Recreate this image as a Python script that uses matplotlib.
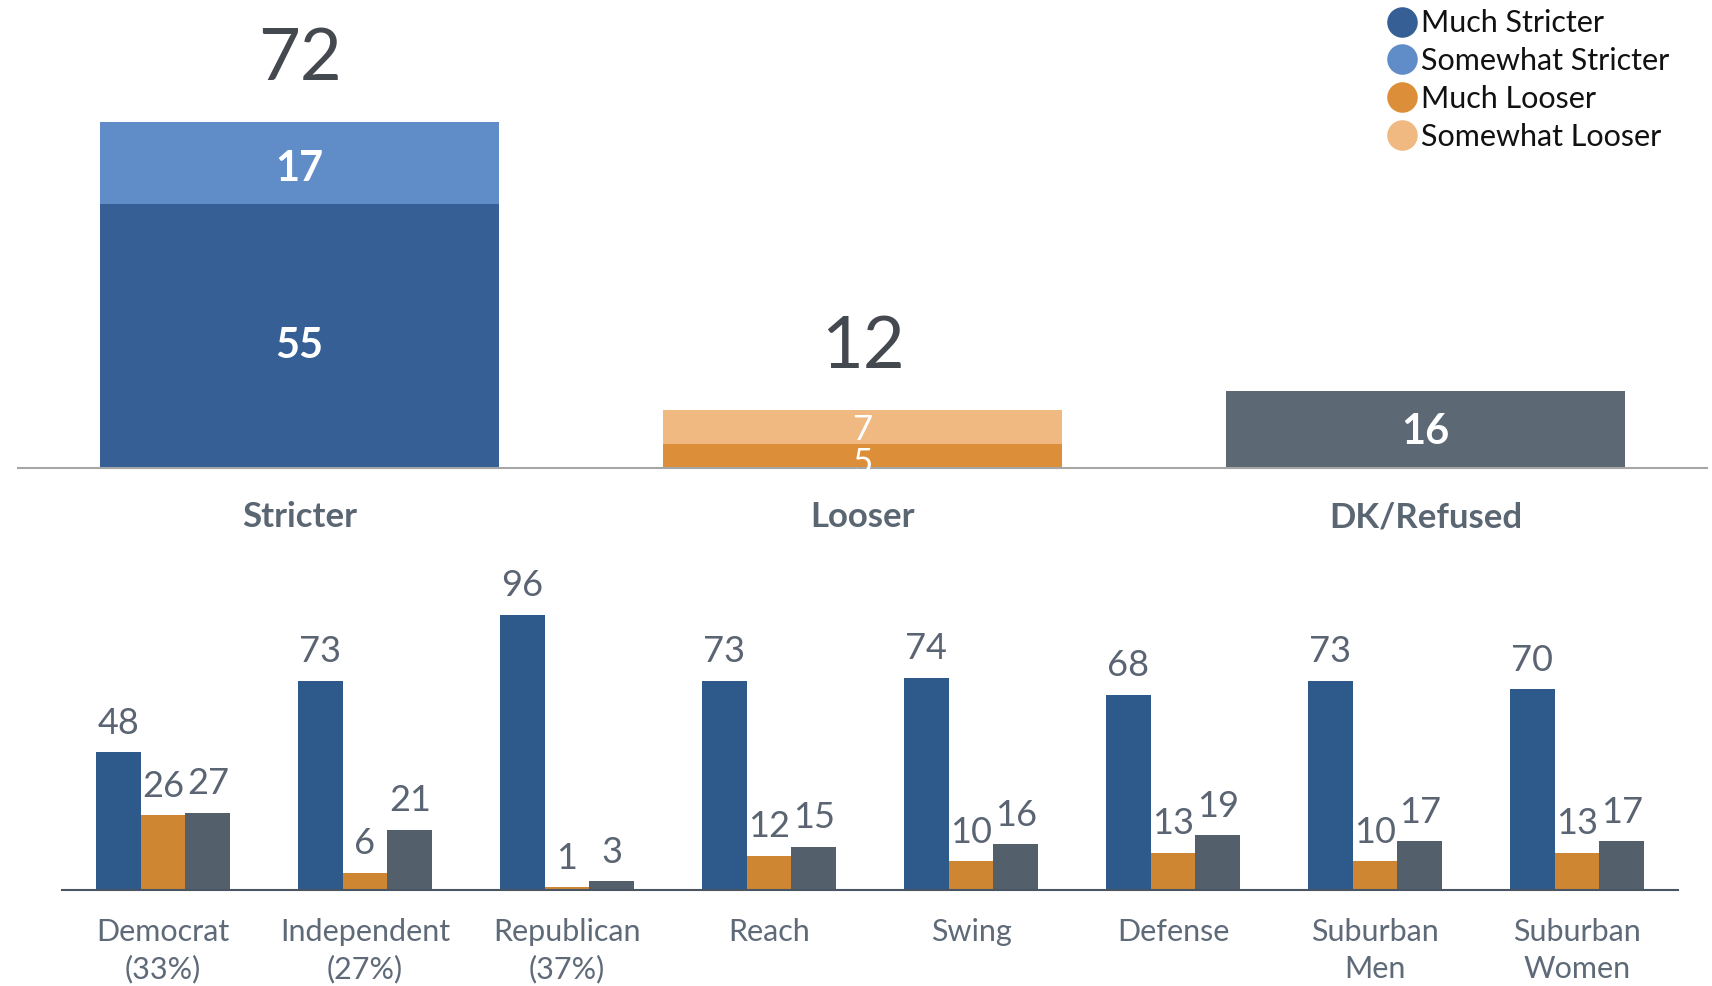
import numpy as np
import matplotlib
matplotlib.use("Agg")
import matplotlib.pyplot as plt
from matplotlib.lines import Line2D

plt.rcParams['font.family'] = ['Lato', 'DejaVu Sans']

# top chart: overall
top_cats = ['Stricter', 'Looser', 'DK/Refused']
much_vals = [55, 5]
somewhat_vals = [17, 7]
dk_total = 16
totals = [72, 12]

# bottom chart: by group
groups = ['Democrat\n(33%)', 'Independent\n(27%)', 'Republican\n(37%)', 'Reach',
          'Swing', 'Defense', 'Suburban\nMen', 'Suburban\nWomen']
stricter_vals = [48, 73, 96, 73, 74, 68, 73, 70]
looser_vals = [26, 6, 1, 12, 10, 13, 10, 13]
dk_vals = [27, 21, 3, 15, 16, 19, 17, 17]

legend_labels = ['Much Stricter', 'Somewhat Stricter', 'Much Looser', 'Somewhat Looser']

C_MUCH_S = '#365f96'
C_SOME_S = '#608cc8'
C_MUCH_L = '#dc8f38'
C_SOME_L = '#efb981'
C_DK = '#5d6875'
B_BLUE = '#2e5a8b'
B_ORANGE = '#cf8633'
B_GRAY = '#535f6b'

W, H = 1712, 986
fig = plt.figure(figsize=(W / 100, H / 100), dpi=100)

# ---- top panel ----
ax1 = fig.add_axes([18 / W, 518 / H, 1689 / W, 456 / H])
x = np.arange(len(top_cats))
bw = 0.707
ax1.bar(x[:2], much_vals, bw, color=[C_MUCH_S, C_MUCH_L], edgecolor='none')
ax1.bar(x[:2], somewhat_vals, bw, bottom=much_vals, color=[C_SOME_S, C_SOME_L], edgecolor='none')
ax1.bar(x[2], dk_total, bw, color=C_DK, edgecolor='none')

# stricter segments (bold), looser segments (regular, overlapping as in the source)
ax1.annotate(str(much_vals[0]), (x[0], much_vals[0] / 2), xytext=(0, -7),
             textcoords='offset points', ha='center', va='center', color='white',
             fontsize=30, fontweight='bold')
ax1.annotate(str(somewhat_vals[0]), (x[0], much_vals[0] + somewhat_vals[0] / 2), xytext=(0, -4),
             textcoords='offset points', ha='center', va='center', color='white',
             fontsize=30, fontweight='bold')
ax1.annotate(str(much_vals[1]), (x[1], much_vals[1] / 2), xytext=(0, -5),
             textcoords='offset points', ha='center', va='center', color='white', fontsize=25)
ax1.annotate(str(somewhat_vals[1]), (x[1], much_vals[1] + somewhat_vals[1] / 2), xytext=(0, -2),
             textcoords='offset points', ha='center', va='center', color='white', fontsize=25)
for i in range(2):
    ax1.annotate(str(totals[i]), (x[i], totals[i]), xytext=(0, 22), textcoords='offset points',
                 ha='center', va='bottom', fontsize=52, color='#44484f')
ax1.annotate(str(dk_total), (x[2], dk_total / 2), xytext=(0, -2), textcoords='offset points',
             ha='center', va='center', color='white', fontsize=30, fontweight='bold')

ax1.set_xlim(-0.5, 2.5)
ax1.set_ylim(0, 95)
ax1.set_xticks(x)
ax1.set_xticklabels(top_cats, fontsize=25, fontweight='bold', color='#5b6673')
ax1.tick_params(axis='x', length=0, pad=24)
ax1.set_yticks([])
for s in ['top', 'right', 'left']:
    ax1.spines[s].set_visible(False)
ax1.spines['bottom'].set_color('#a6a6a6')
ax1.spines['bottom'].set_linewidth(1.5)

# ---- bottom panel ----
ax2 = fig.add_axes([62 / W, 96 / H, 1616 / W, 330 / H])
g = np.arange(len(groups))
w = 0.222
series = [(stricter_vals, B_BLUE, -1), (looser_vals, B_ORANGE, 0), (dk_vals, B_GRAY, 1)]
for vals, col, off in series:
    ax2.bar(g + off * w, vals, w, color=col, edgecolor='none')
    for xi, v in zip(g + off * w, vals):
        ax2.annotate(str(v), (xi, v), xytext=(0, 9), textcoords='offset points',
                     ha='center', va='bottom', fontsize=26, color='#5a6472')

ax2.set_xlim(-0.5, 7.5)
ax2.set_ylim(0, 115)
ax2.set_xticks(g)
ax2.set_xticklabels(groups, fontsize=22, color='#5f6a78', linespacing=1.4)
ax2.tick_params(axis='x', length=0, pad=20)
ax2.set_yticks([])
for s in ['top', 'right', 'left']:
    ax2.spines[s].set_visible(False)
ax2.spines['bottom'].set_color('#4a5563')
ax2.spines['bottom'].set_linewidth(1.5)

# ---- legend ----
handles = [Line2D([], [], marker='o', linestyle='none', markersize=22, markerfacecolor=c,
                  markeredgecolor='none') for c in [C_MUCH_S, C_SOME_S, C_MUCH_L, C_SOME_L]]
fig.legend(handles, legend_labels, loc='upper left', bbox_to_anchor=(1374 / W, 1 + 6 / H),
           frameon=False, fontsize=22, handlelength=0.8, handletextpad=0.25,
           labelspacing=0.32, borderpad=0, labelcolor='#111111')

fig.savefig('out.png', dpi=100)
